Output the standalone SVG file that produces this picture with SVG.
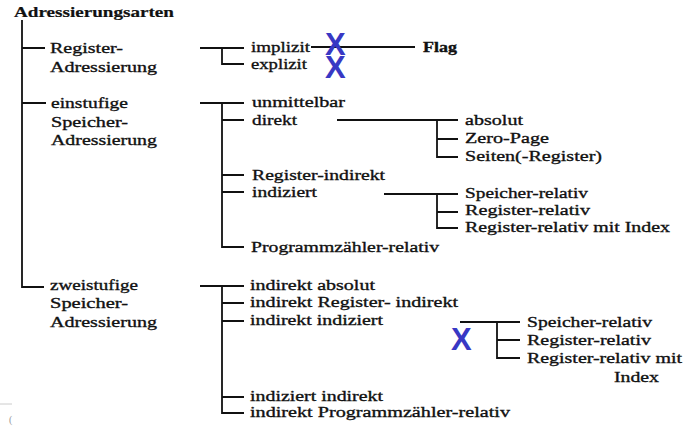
<svg xmlns="http://www.w3.org/2000/svg" width="695" height="426" viewBox="0 0 695 426">
<style>
text{font-family:"Liberation Serif","Times New Roman",serif;font-size:15.5px;fill:#111;stroke:#111;stroke-width:0.35}
.t{font-weight:bold;font-size:15px;stroke-width:0.2}
.x{font-family:"Liberation Sans",Arial,sans-serif;font-weight:bold;font-size:31px;fill:#3838c4;stroke:none}
.c{stroke:#111;stroke-width:1.8;fill:none}
.f{fill:#999;stroke:none;font-size:10px}
</style>
<rect width="695" height="426" fill="#fff"/>
<g id="connectors" class="c">
<path d="M22,20V287H44M22,48H45M22,103H46"/>
<path d="M200,48H244M222,48V64H244"/>
<path d="M311,47H415"/>
<path d="M200,103H244M222,103V247H244M222,120H244M222,175H244M222,192H244"/>
<path d="M337,120H458M437,120V157H458M437,139H458"/>
<path d="M384,194H458M437,194V228H458M437,212H458"/>
<path d="M200,286H244M222,286V413H244M222,303H244M222,321H244M222,397H244"/>
<path d="M460,322H520M497,322V358H520M497,340H520"/>
</g>
<g id="root"><text class="t" x="14" y="17" textLength="160" lengthAdjust="spacingAndGlyphs">Adressierungsarten</text></g>
<g id="register"><text x="50" y="53" textLength="73" lengthAdjust="spacingAndGlyphs">Register-</text><text x="50" y="72" textLength="107" lengthAdjust="spacingAndGlyphs">Adressierung</text></g>
<g id="einstufig"><text x="51" y="108" textLength="77" lengthAdjust="spacingAndGlyphs">einstufige</text><text x="51" y="127" textLength="77" lengthAdjust="spacingAndGlyphs">Speicher-</text><text x="51" y="145" textLength="106" lengthAdjust="spacingAndGlyphs">Adressierung</text></g>
<g id="zweistufig"><text x="50" y="290" textLength="88" lengthAdjust="spacingAndGlyphs">zweistufige</text><text x="50" y="308" textLength="78" lengthAdjust="spacingAndGlyphs">Speicher-</text><text x="50" y="327" textLength="107" lengthAdjust="spacingAndGlyphs">Adressierung</text></g>
<g id="implizit"><text x="251" y="52" textLength="59" lengthAdjust="spacingAndGlyphs">implizit</text></g>
<g id="explizit"><text x="251" y="69" textLength="56" lengthAdjust="spacingAndGlyphs">explizit</text></g>
<g id="flag"><text x="423" y="52" textLength="34" lengthAdjust="spacingAndGlyphs" style="font-weight:bold">Flag</text></g>
<g id="unmittelbar"><text x="252" y="107" textLength="93" lengthAdjust="spacingAndGlyphs">unmittelbar</text></g>
<g id="direkt"><text x="252" y="125" textLength="45" lengthAdjust="spacingAndGlyphs">direkt</text></g>
<g id="register-indirekt"><text x="252" y="180" textLength="133" lengthAdjust="spacingAndGlyphs">Register-indirekt</text></g>
<g id="indiziert"><text x="252" y="197" textLength="65" lengthAdjust="spacingAndGlyphs">indiziert</text></g>
<g id="pc-relativ"><text x="251" y="252" textLength="188" lengthAdjust="spacingAndGlyphs">Programmzähler-relativ</text></g>
<g id="absolut"><text x="465" y="125" textLength="58" lengthAdjust="spacingAndGlyphs">absolut</text></g>
<g id="zero-page"><text x="465" y="143" textLength="84" lengthAdjust="spacingAndGlyphs">Zero-Page</text></g>
<g id="seiten"><text x="465" y="161" textLength="137" lengthAdjust="spacingAndGlyphs">Seiten(-Register)</text></g>
<g id="speicher-relativ-1"><text x="465" y="198" textLength="123" lengthAdjust="spacingAndGlyphs">Speicher-relativ</text></g>
<g id="register-relativ-1"><text x="465" y="215" textLength="125" lengthAdjust="spacingAndGlyphs">Register-relativ</text></g>
<g id="register-relativ-index-1"><text x="465" y="232" textLength="205" lengthAdjust="spacingAndGlyphs">Register-relativ mit Index</text></g>
<g id="indirekt-absolut"><text x="250" y="290" textLength="125" lengthAdjust="spacingAndGlyphs">indirekt absolut</text></g>
<g id="indirekt-register-indirekt"><text x="250" y="307" textLength="208" lengthAdjust="spacingAndGlyphs">indirekt Register- indirekt</text></g>
<g id="indirekt-indiziert"><text x="250" y="325" textLength="133" lengthAdjust="spacingAndGlyphs">indirekt indiziert</text></g>
<g id="indiziert-indirekt"><text x="250" y="401" textLength="133" lengthAdjust="spacingAndGlyphs">indiziert indirekt</text></g>
<g id="indirekt-pc-relativ"><text x="250" y="417" textLength="260" lengthAdjust="spacingAndGlyphs">indirekt Programmzähler-relativ</text></g>
<g id="speicher-relativ-2"><text x="527" y="327" textLength="125" lengthAdjust="spacingAndGlyphs">Speicher-relativ</text></g>
<g id="register-relativ-2"><text x="527" y="345" textLength="124" lengthAdjust="spacingAndGlyphs">Register-relativ</text></g>
<g id="register-relativ-index-2"><text x="527" y="363" textLength="155" lengthAdjust="spacingAndGlyphs">Register-relativ mit</text><text x="614" y="382" textLength="45" lengthAdjust="spacingAndGlyphs">Index</text></g>
<g id="marks">
<text class="x" x="325" y="55">X</text>
<text class="x" x="325" y="78">X</text>
<text class="x" x="451" y="350">X</text>
</g>
<g id="artifacts">
<line x1="0" y1="404" x2="12" y2="404" stroke="#ccc" stroke-width="1"/>
<text class="f" x="9" y="423">(</text>
</g>
</svg>
